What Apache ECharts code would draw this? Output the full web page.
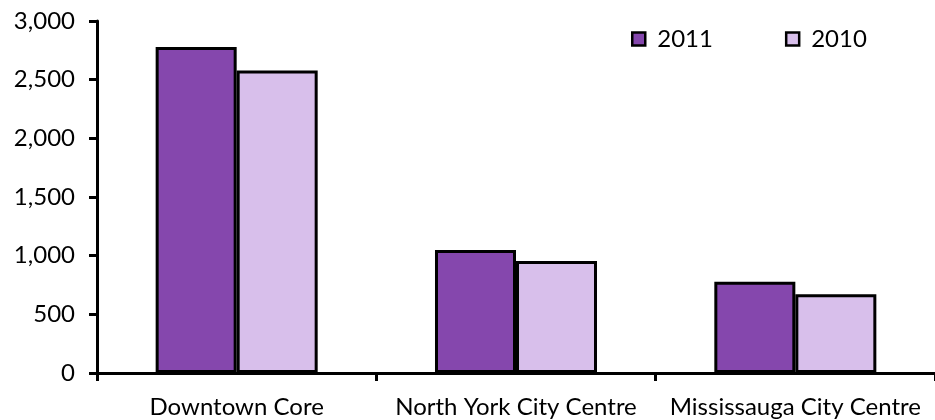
<!DOCTYPE html>
<html>
<head>
<meta charset="utf-8">
<script src="https://cdn.jsdelivr.net/npm/echarts@6/dist/echarts.min.js"></script>
<style>html,body{margin:0;padding:0;background:#fff}#c{width:935px;height:420px}</style>
</head>
<body>
<div id="c"></div>
<script>
var categories = ['Downtown Core', 'North York City Centre', 'Mississauga City Centre'];
var series2011 = [2778, 1048, 777];
var series2010 = [2578, 954, 672];
var yTicks = [0, 500, 1000, 1500, 2000, 2500, 3000];

var chart = echarts.init(document.getElementById('c'));
var font = 'Lato, "Open Sans", sans-serif';
chart.setOption({
  animation: false,
  backgroundColor: '#fff',
  textStyle: { fontFamily: font },
  legend: {
    data: ['2011', '2010'],
    left: 626, top: 22,
    itemWidth: 13, itemHeight: 13, itemGap: 72,
    icon: 'rect',
    textStyle: { fontSize: 24, color: '#000', fontFamily: font, padding: [0, 0, 0, 7] },
    itemStyle: { borderColor: '#000', borderWidth: 2.5 }
  },
  grid: { left: 97, top: 21, width: 849, height: 352, containLabel: false },
  xAxis: {
    type: 'category',
    data: categories,
    axisLine: { lineStyle: { color: '#000', width: 3 } },
    axisTick: { show: true, length: 8, lineStyle: { color: '#000', width: 3 } },
    axisLabel: { fontSize: 24, color: '#000', margin: 22, fontFamily: font, interval: 0 }
  },
  yAxis: {
    type: 'value',
    min: 0, max: 3000, interval: 500,
    splitLine: { show: false },
    axisLine: { show: true, lineStyle: { color: '#000', width: 3 } },
    axisTick: { show: true, length: 8, lineStyle: { color: '#000', width: 3 } },
    axisLabel: {
      fontSize: 24, color: '#000', margin: 22, fontFamily: font,
      formatter: function (v) { return yTicks.indexOf(v) >= 0 ? v.toLocaleString('en-US') : ''; }
    }
  },
  series: [
    {
      name: '2011', type: 'bar', data: series2011,
      barGap: '0%', barCategoryGap: '42%',
      itemStyle: { color: '#8547AD', borderColor: '#000', borderWidth: 3 }
    },
    {
      name: '2010', type: 'bar', data: series2010,
      itemStyle: { color: '#D8BFEB', borderColor: '#000', borderWidth: 3 }
    }
  ]
});
</script>
</body>
</html>
